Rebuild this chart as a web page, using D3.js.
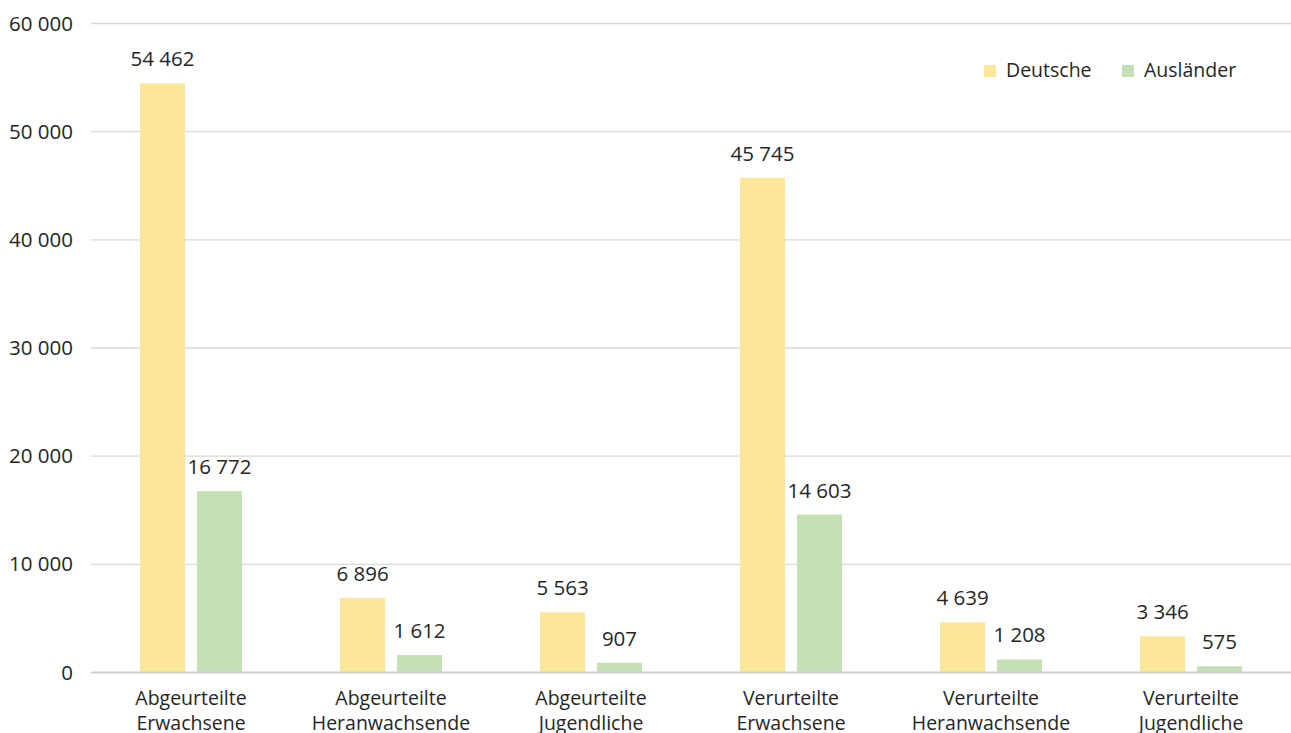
<!DOCTYPE html>
<html>
<head>
<meta charset="utf-8">
<script src="https://cdn.jsdelivr.net/npm/d3@7"></script>
<style>
  body { margin: 0; background: #fff; }
  svg text { font-family: "Open Sans", "Noto Sans", sans-serif; fill: #262626; }
</style>
</head>
<body>
<svg id="chart"></svg>
<script>
const categories = [
    ["Abgeurteilte", "Erwachsene"],
    ["Abgeurteilte", "Heranwachsende"],
    ["Abgeurteilte", "Jugendliche"],
    ["Verurteilte", "Erwachsene"],
    ["Verurteilte", "Heranwachsende"],
    ["Verurteilte", "Jugendliche"]
];
const seriesNames = ["Deutsche", "Ausländer"];
const deutsche = [54462, 6896, 5563, 45745, 4639, 3346];
const auslaender = [16772, 1612, 907, 14603, 1208, 575];
const yTicks = [0, 10000, 20000, 30000, 40000, 50000, 60000];

drawChart();

function drawChart(){
    const width = 1291;
    const height = 733;
    const left = 91, right = 1291, top = 23.5, bottom = 672.5;
    const colors = ["#fce699", "#c5e0b4"];
    const series = [deutsche, auslaender];
    const numSize = 20.5;   // digits look a bit wider in the original
    const textSize = 19.5;

    const fmt = d3.formatLocale({decimal: ",", thousands: " ", grouping: [3], currency: ["", "€"]}).format(",d");

    const svg = d3.select("#chart")
                    .attr("width", width)
                    .attr("height", height);

    const x0 = d3.scaleBand()
                    .domain(d3.range(categories.length))
                    .range([left, right])
                    .paddingInner(0.49)
                    .paddingOuter(0.245);

    const x1 = d3.scaleBand()
                    .domain(seriesNames)
                    .range([0, x0.bandwidth()])
                    .paddingInner(0.21);

    const y = d3.scaleLinear()
                    .domain([0, 60000])
                    .range([bottom, top]);

    // gridlines
    svg.append("g")
        .selectAll("line")
        .data(yTicks.filter(t => t > 0))
        .enter()
        .append("line")
        .attr("x1", left)
        .attr("x2", right)
        .attr("y1", d => y(d))
        .attr("y2", d => y(d))
        .attr("stroke", "#d9d9d9")
        .attr("stroke-width", 1.3);

    // y axis labels
    const yAxis = d3.axisLeft(y)
                    .tickValues(yTicks)
                    .tickFormat(fmt)
                    .tickSize(0)
                    .tickPadding(0);

    svg.append("g")
        .attr("transform", `translate(73, 0)`)
        .call(yAxis)
        .call(g => g.select(".domain").remove())
        .selectAll("text")
        .attr("font-size", numSize)
        .attr("font-family", null)
        .attr("fill", "#262626");

    // bars
    series.forEach((vals, si) => {
        const g = svg.append("g");
        g.selectAll("rect")
            .data(vals)
            .enter()
            .append("rect")
            .attr("x", (d, i) => x0(i) + x1(seriesNames[si]))
            .attr("y", d => y(d))
            .attr("width", x1.bandwidth())
            .attr("height", d => y(0) - y(d))
            .attr("fill", colors[si]);

        g.selectAll("text")
            .data(vals)
            .enter()
            .append("text")
            .attr("x", (d, i) => x0(i) + x1(seriesNames[si]) + x1.bandwidth() / 2)
            .attr("y", d => y(d) - 17)
            .attr("text-anchor", "middle")
            .attr("font-size", numSize)
            .text(d => fmt(d));
    });

    // x axis line
    svg.append("line")
        .attr("x1", left)
        .attr("x2", right)
        .attr("y1", y(0))
        .attr("y2", y(0))
        .attr("stroke", "#d0d0d0")
        .attr("stroke-width", 2);

    // category labels
    const xl = svg.append("g")
        .selectAll("text")
        .data(categories)
        .enter()
        .append("text")
        .attr("text-anchor", "middle")
        .attr("font-size", textSize)
        .attr("x", (d, i) => x0(i) + x0.bandwidth() / 2)
        .attr("y", 705);

    xl.selectAll("tspan")
        .data(d => d)
        .enter()
        .append("tspan")
        .attr("x", function(){ return d3.select(this.parentNode).attr("x"); })
        .attr("dy", (d, i) => i === 0 ? 0 : 25)
        .text(d => d);

    // legend
    const legendX = [984, 1122];
    const legend = svg.append("g")
        .selectAll("g")
        .data(seriesNames)
        .enter()
        .append("g")
        .attr("transform", (d, i) => `translate(${legendX[i]}, 65)`);

    legend.append("rect")
        .attr("width", 12)
        .attr("height", 12)
        .attr("fill", (d, i) => colors[i]);

    legend.append("text")
        .attr("x", 22)
        .attr("y", 12)
        .attr("font-size", textSize)
        .text(d => d);
}
</script>
</body>
</html>
